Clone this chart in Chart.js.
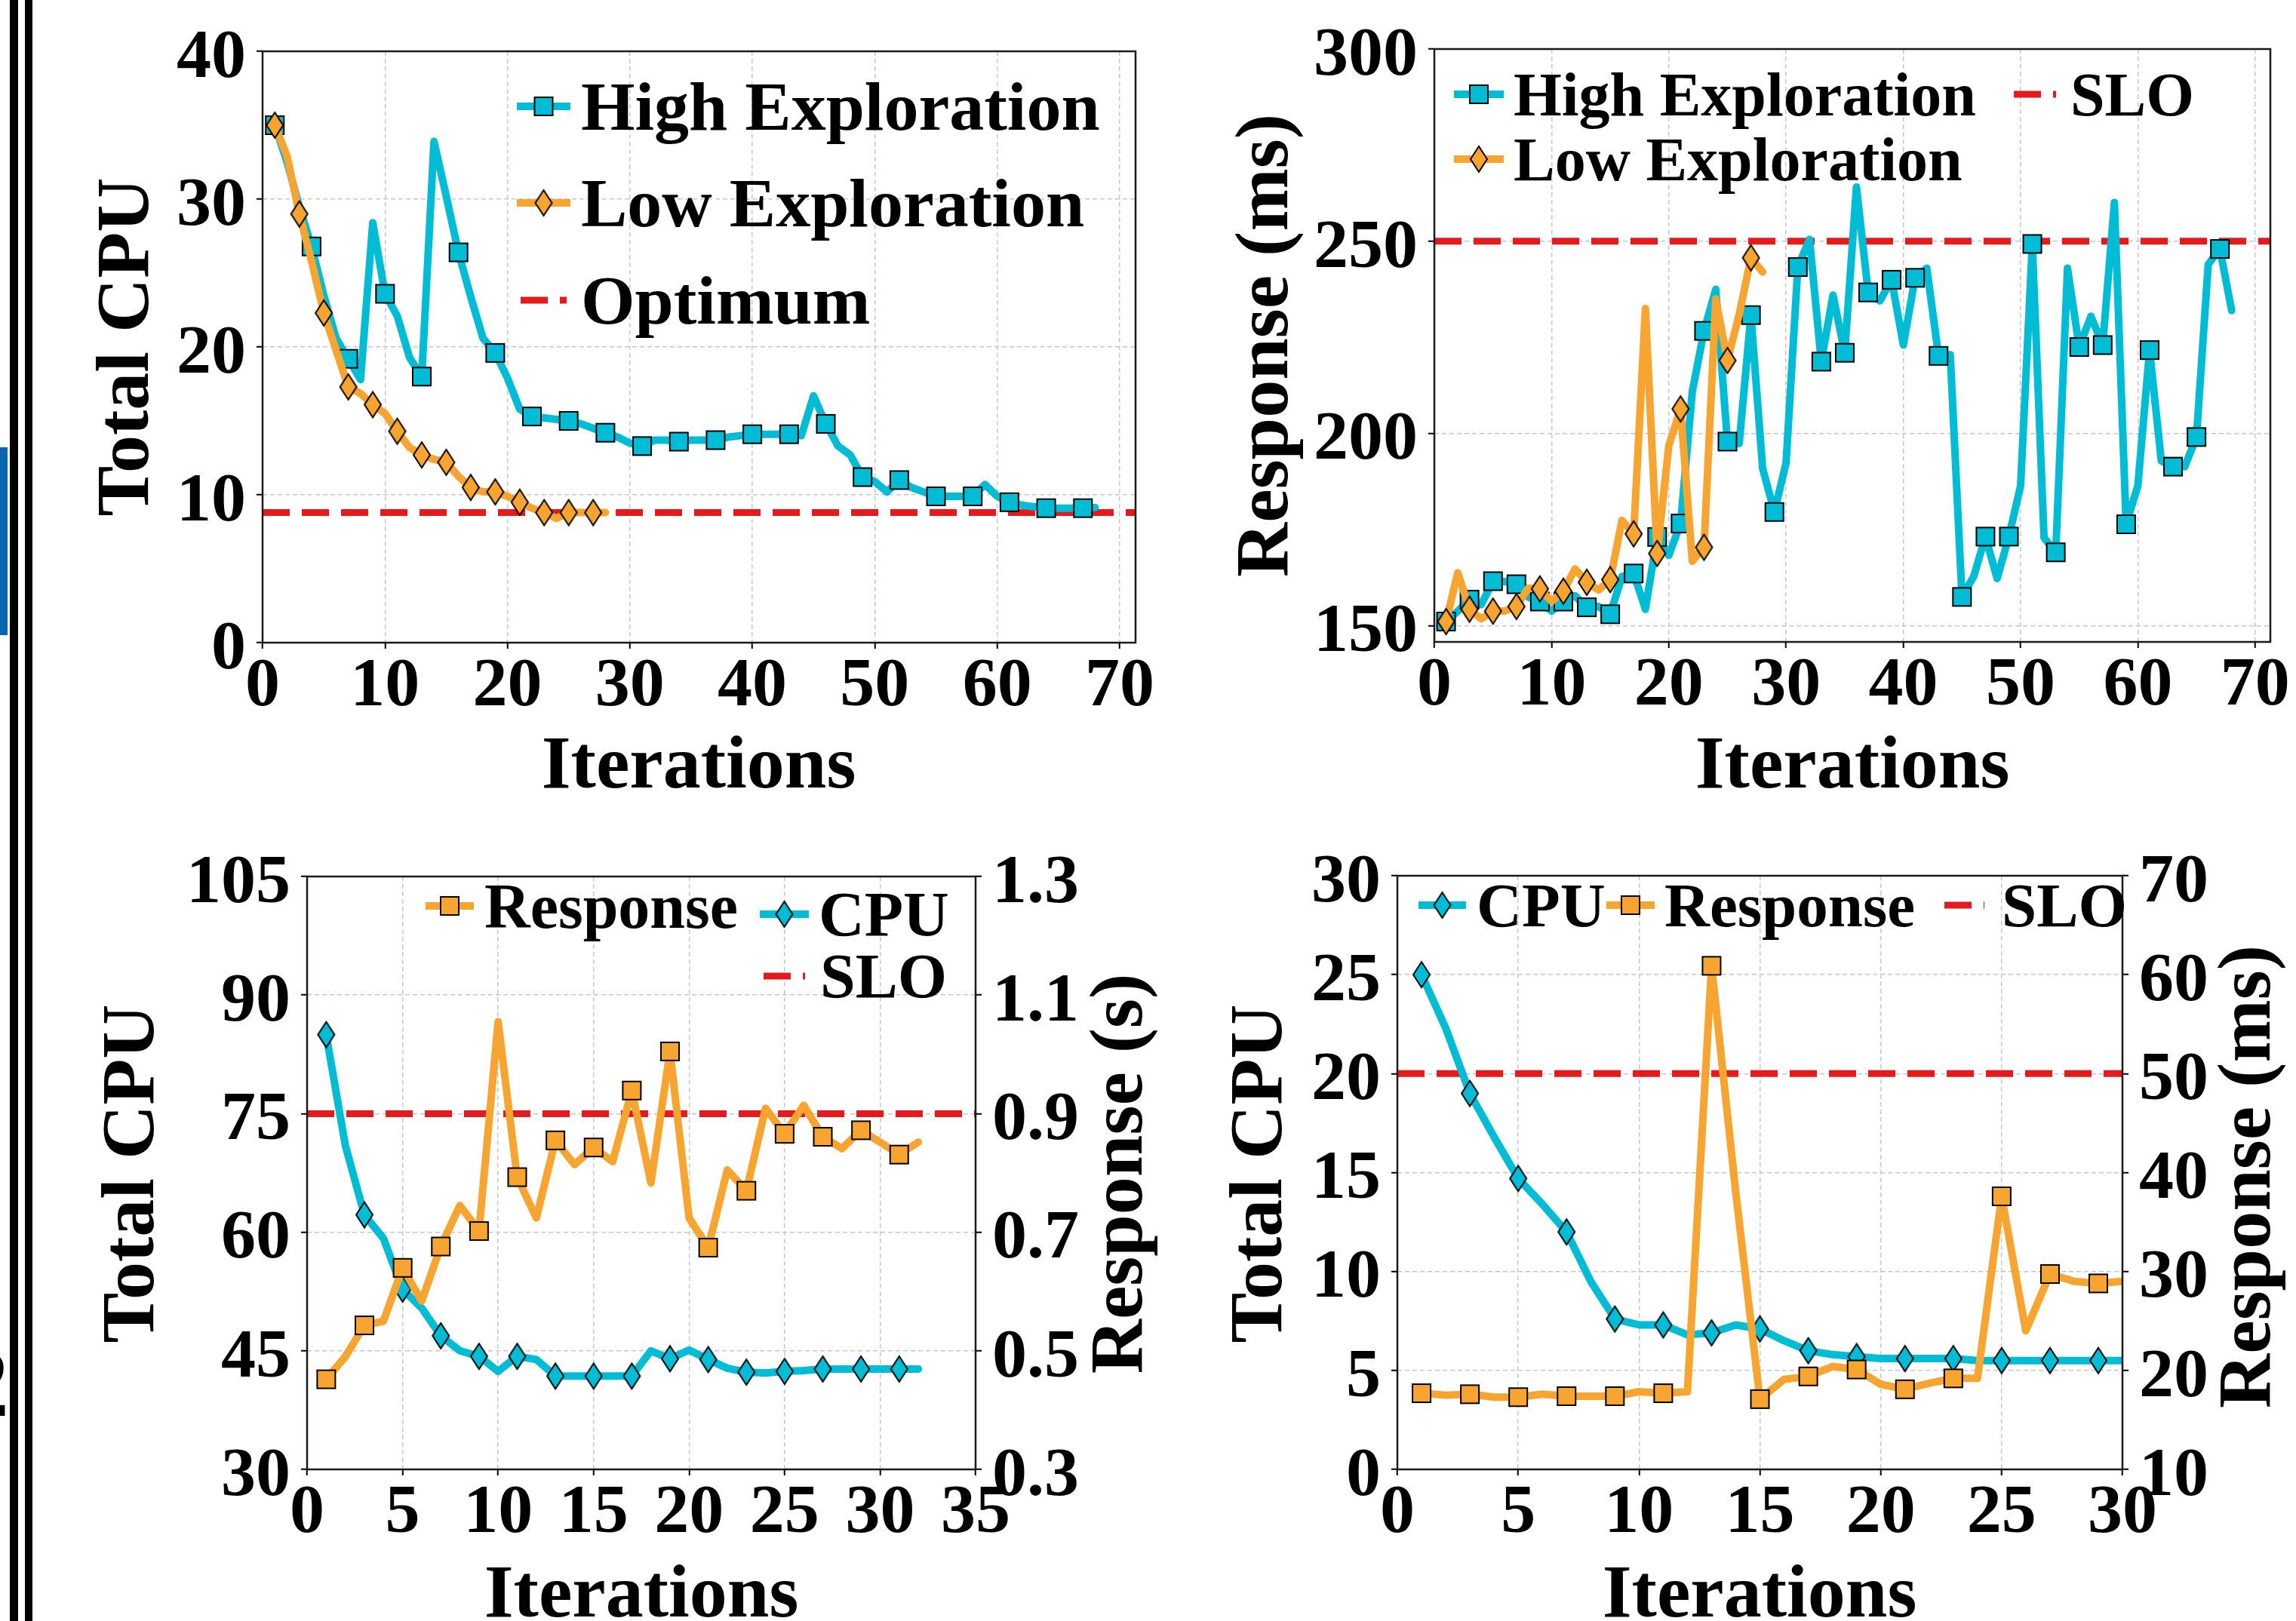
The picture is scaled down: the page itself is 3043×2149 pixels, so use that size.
<!DOCTYPE html>
<html>
<head>
<meta charset="utf-8">
<script src="https://cdn.jsdelivr.net/npm/chart.js@4.4.1/dist/chart.umd.min.js"></script>
<style>
  html, body { margin: 0; padding: 0; background: #fff; overflow: hidden; }
  #page { position: relative; width: 3043px; height: 2149px; overflow: hidden; background: #fff; }
  canvas { position: absolute; }
  .deco { position: absolute; }
</style>
</head>
<body>
<div id="page">
  <!-- bits of the neighbouring page that show at the left edge -->
  <div class="deco" style="left:13px;top:0;width:11px;height:2149px;background:#000"></div>
  <div class="deco" style="left:33px;top:0;width:10px;height:2149px;background:#000"></div>
  <div class="deco" style="left:0;top:593px;width:10px;height:249px;background:#0865b0"></div>
  <div class="deco" style="left:-53px;top:1768px;font:bold 130px 'Liberation Serif';line-height:1">2</div>

  <canvas id="tl" width="1580" height="1080" style="left:0;top:0"></canvas>
  <canvas id="tr" width="1483" height="1080" style="left:1560px;top:0"></canvas>
  <canvas id="bl" width="1580" height="1100" style="left:0;top:1080px"></canvas>
  <canvas id="br" width="1483" height="1100" style="left:1560px;top:1080px"></canvas>
</div>
<script>
const FONT = "'Liberation Serif', 'Times New Roman', serif";
const CYAN = '#00bcd4';
const ORANGE = '#f7a431';
const RED = '#e41a1c';

// top-left: total CPU per iteration (iteration 1, 2, ...)
const tlHighCpu = [35.0, 32.5, 29.5, 26.8, 23.5, 20.6, 19.2, 17.8, 28.4, 23.6,
  22.1, 19.3, 18.0, 33.9, 30.2, 26.4, 23.4, 20.6, 19.6, 17.9,
  15.8, 15.3, 15.2, 15.1, 15.0, 14.8, 14.5, 14.2, 13.9, 13.5,
  13.3, 13.7, 13.7, 13.6, 13.7, 13.7, 13.7, 13.9, 14.0, 14.1,
  14.1, 14.1, 14.1, 14.0, 16.7, 14.8, 13.3, 12.7, 11.2, 10.9,
  10.2, 11.0, 10.5, 10.2, 9.9, 9.9, 9.9, 9.9, 10.7, 9.9,
  9.5, 9.3, 9.2, 9.1, 9.1, 9.1, 9.1, 9.15];
const tlLowCpu = [35.0, 32.9, 29.0, 25.8, 22.3, 19.8, 17.3, 16.85, 16.1, 15.5,
  14.3, 13.2, 12.7, 12.4, 12.2, 11.25, 10.5, 10.2, 10.2, 9.9,
  9.5, 9.1, 8.8, 8.4, 8.8, 8.8, 8.8, 8.8];
const tlOptimum = 8.8;
const tlXTicks = [0, 10, 20, 30, 40, 50, 60, 70];
const tlXLabels = ['0', '10', '20', '30', '40', '50', '60', '70'];
const tlYTicks = [0, 10, 20, 30, 40];
const tlYLabels = ['0', '10', '20', '30', '40'];

// top-right: response time (ms)
const trHighResp = [151.1, 153.8, 156.8, 155.5, 161.6, 161.5, 160.8, 157.5, 156.3, 153.8,
  156.3, 157.8, 154.8, 155.0, 153.0, 162.8, 163.6, 154.3, 173.1, 168.3,
  176.6, 210.9, 226.7, 237.5, 197.9, 197.4, 230.8, 190.9, 179.6, 192.4,
  243.3, 250.5, 218.7, 236.0, 221.0, 264.1, 236.7, 234.5, 240.0, 223.0,
  240.5, 243.0, 220.2, 220.5, 157.5, 162.8, 173.2, 162.3, 173.2, 186.4,
  249.3, 172.9, 169.1, 243.0, 222.5, 230.5, 223.0, 260.1, 176.4, 186.4,
  221.7, 192.9, 191.4, 191.4, 199.1, 244.0, 248.0, 232.0];
const trLowResp = [151.1, 163.8, 154.3, 151.8, 153.8, 153.8, 155.0, 159.8, 159.6, 156.3,
  159.0, 164.8, 161.3, 159.3, 162.0, 177.4, 173.9, 232.5, 168.8, 196.9,
  206.4, 166.8, 170.4, 235.0, 219.0, 231.0, 245.7, 242.0];
const trSlo = 250;
const trYTicks = [150, 200, 250, 300];
const trYLabels = ['150', '200', '250', '300'];

// bottom-left: CPU (left axis) and response in s (right axis)
const blCpu = [85.0, 71.0, 62.2, 59.2, 52.8, 50.4, 46.9, 45.0, 44.3, 42.4,
  44.3, 43.9, 41.8, 41.8, 41.8, 41.8, 41.8, 45.0, 44.0, 45.1,
  43.9, 42.8, 42.3, 42.2, 42.4, 42.5, 42.7, 42.7, 42.7, 42.7,
  42.7, 42.7];
const blResp = [0.452, 0.490, 0.543, 0.550, 0.640, 0.584, 0.676, 0.745, 0.702, 1.055,
  0.793, 0.724, 0.855, 0.814, 0.843, 0.819, 0.939, 0.783, 1.005, 0.724,
  0.674, 0.805, 0.770, 0.909, 0.866, 0.914, 0.861, 0.841, 0.872, 0.852,
  0.831, 0.852];
const blSlo = 0.9;
const blXTicks = [0, 5, 10, 15, 20, 25, 30, 35];
const blXLabels = ['0', '5', '10', '15', '20', '25', '30', '35'];
const blYTicks = [30, 45, 60, 75, 90, 105];
const blYLabels = ['30', '45', '60', '75', '90', '105'];
const blRTicks = [0.3, 0.5, 0.7, 0.9, 1.1, 1.3];
const blRLabels = ['0.3', '0.5', '0.7', '0.9', '1.1', '1.3'];

// bottom-right: CPU (left axis) and response in ms (right axis)
const brCpu = [25.0, 22.3, 19.0, 16.8, 14.7, 13.4, 12.0, 9.5, 7.6, 7.3,
  7.3, 6.8, 6.9, 7.3, 7.1, 6.5, 6.0, 5.8, 5.7, 5.6,
  5.6, 5.6, 5.6, 5.5, 5.5, 5.5, 5.5, 5.5, 5.5, 5.5];
const brResp = [17.7, 17.5, 17.6, 17.3, 17.3, 17.6, 17.4, 17.4, 17.4, 17.85,
  17.7, 17.85, 60.9, 38.0, 17.1, 19.1, 19.4, 20.4, 20.1, 18.6,
  18.1, 18.7, 19.2, 19.2, 37.6, 24.0, 29.75, 29.0, 28.8, 29.0];
const brSlo = 50;
const brXTicks = [0, 5, 10, 15, 20, 25, 30];
const brXLabels = ['0', '5', '10', '15', '20', '25', '30'];
const brYTicks = [0, 5, 10, 15, 20, 25, 30];
const brYLabels = ['0', '5', '10', '15', '20', '25', '30'];
const brRTicks = [10, 20, 30, 40, 50, 60, 70];
const brRLabels = ['10', '20', '30', '40', '50', '60', '70'];

// marker glyphs (square and thin diamond, black edge)
function marker(kind, fill) {
  const c = document.createElement('canvas');
  const w = kind === 'square' ? 28 : 26;
  const h = kind === 'square' ? 28 : 38;
  c.width = w; c.height = h;
  const g = c.getContext('2d');
  g.fillStyle = fill; g.strokeStyle = '#000'; g.lineWidth = 2;
  g.beginPath();
  if (kind === 'square') {
    g.rect(2, 2, 24, 24);
  } else {
    g.moveTo(13, 2); g.lineTo(24, 19); g.lineTo(13, 36); g.lineTo(2, 19); g.closePath();
  }
  g.fill(); g.stroke();
  return c;
}

const xy = vals => vals.map((v, i) => ({ x: i + 1, y: v }));

function series(label, vals, color, mark, every, axis = 'y') {
  return {
    label, data: xy(vals), yAxisID: axis,
    borderColor: color, backgroundColor: color, borderWidth: 10,
    borderJoinStyle: 'round', borderCapStyle: 'round', tension: 0,
    pointStyle: mark, pointRadius: c => (c.dataIndex % every === 0 ? 12 : 0), pointHoverRadius: 0
  };
}

function level(label, value, xmin, xmax, axis = 'y') {
  return {
    label, data: [{ x: xmin, y: value }, { x: xmax, y: value }], yAxisID: axis,
    borderColor: RED, borderWidth: 9, borderDash: [36, 16], borderCapStyle: 'butt', pointRadius: 0
  };
}

function axis(pos, min, max, vals, labels, size, onArea = true) {
  const horiz = pos === 'bottom';
  return {
    type: 'linear', position: pos, min, max,
    afterBuildTicks: s => { s.ticks = vals.map(v => ({ value: v })); },
    afterFit: s => { if (horiz) s.height = size; else s.width = size; },
    ticks: {
      autoSkip: false, maxRotation: 0, minRotation: 0,
      padding: horiz ? 5 : 14, labelOffset: horiz ? 0 : 10, color: '#000',
      font: { family: FONT, size: 92, weight: 'bold', lineHeight: 1 },
      callback: (v, i) => labels[i]
    },
    grid: { color: '#c8c8c8', lineWidth: 1.5, tickLength: 8, tickWidth: 2, tickColor: '#000', drawOnChartArea: onArea },
    border: { display: false, dash: [6, 4] },
    title: { display: false }
  };
}

// box around the plot area, like the matplotlib spines
const frame = {
  id: 'frame',
  afterDatasetsDraw(chart) {
    const { ctx, chartArea: a } = chart;
    ctx.save();
    ctx.strokeStyle = '#1a1a1a'; ctx.lineWidth = 2.5;
    ctx.strokeRect(a.left, a.top, a.right - a.left, a.bottom - a.top);
    ctx.restore();
  }
};

// legend drawn inside the plot: line handle + marker + label
function legendBox(size, items) {
  return {
    id: 'inLegend',
    afterDraw(chart) {
      const ctx = chart.ctx;
      items.forEach(it => {
        const ds = chart.data.datasets[it.ds];
        ctx.save();
        ctx.strokeStyle = ds.borderColor;
        ctx.lineWidth = ds.borderWidth;
        ctx.setLineDash(ds.borderDash || []);
        ctx.lineCap = ds.borderDash ? 'butt' : 'square';
        ctx.beginPath(); ctx.moveTo(it.x, it.y); ctx.lineTo(it.x + it.len, it.y); ctx.stroke();
        const m = ds.pointStyle;
        if (m && m.width) ctx.drawImage(m, it.x + it.len / 2 - m.width / 2, it.y - m.height / 2);
        ctx.fillStyle = '#000';
        ctx.font = `bold ${size}px ${FONT}`;
        ctx.textAlign = 'left'; ctx.textBaseline = 'alphabetic';
        ctx.fillText(ds.label, it.tx, it.y + size * 0.34);
        ctx.restore();
      });
    }
  };
}

// axis titles; x, y is the centre of the text baseline
function axisTitles(list) {
  return {
    id: 'axisTitles',
    afterDraw(chart) {
      const ctx = chart.ctx;
      list.forEach(t => {
        ctx.save();
        ctx.translate(t.x, t.y);
        if (t.up) ctx.rotate(-Math.PI / 2);
        ctx.font = `bold 100px ${FONT}`; ctx.fillStyle = '#000';
        ctx.textAlign = 'center'; ctx.textBaseline = 'alphabetic';
        ctx.fillText(t.text, 0, 0);
        ctx.restore();
      });
    }
  };
}

function makeChart(id, datasets, scales, padding, plugins) {
  return new Chart(document.getElementById(id), {
    type: 'line',
    data: { datasets },
    options: {
      responsive: false, animation: false, devicePixelRatio: 1, events: [],
      layout: { padding, autoPadding: false },
      scales,
      plugins: { legend: { display: false }, tooltip: { enabled: false } }
    },
    plugins: [frame, ...plugins]
  });
}

const sq = c => marker('square', c);
const dm = c => marker('diamond', c);

// top-left
makeChart('tl', [
  series('Low Exploration', tlLowCpu, ORANGE, dm(ORANGE), 2),
  series('High Exploration', tlHighCpu, CYAN, sq(CYAN), 3),
  level('Optimum', tlOptimum, 0, 71.3)
], {
  x: axis('bottom', 0, 71.3, tlXTicks, tlXLabels, 228),
  y: axis('left', 0, 40, tlYTicks, tlYLabels, 348)
}, { top: 68, right: 75, left: 0, bottom: 0 }, [
  legendBox(92, [
    { ds: 1, x: 690, len: 61, tx: 770, y: 141 },
    { ds: 0, x: 690, len: 61, tx: 770, y: 269 },
    { ds: 2, x: 690, len: 61, tx: 770, y: 398 }
  ]),
  axisTitles([
    { text: 'Iterations', x: 926, y: 1044 },
    { text: 'Total CPU', x: 196, y: 460, up: true }
  ])
]);

// top-right
makeChart('tr', [
  series('Low Exploration', trLowResp, ORANGE, dm(ORANGE), 2),
  series('High Exploration', trHighResp, CYAN, sq(CYAN), 2),
  level('SLO', trSlo, 0, 71.3)
], {
  x: axis('bottom', 0, 71.3, tlXTicks, tlXLabels, 229),
  y: axis('left', 145.8, 300, trYTicks, trYLabels, 341)
}, { top: 65, right: 34, left: 0, bottom: 0 }, [
  legendBox(82, [
    { ds: 1, x: 372, len: 56, tx: 446, y: 125 },
    { ds: 0, x: 372, len: 56, tx: 446, y: 211 },
    { ds: 2, x: 1109, len: 56, tx: 1184, y: 125 }
  ]),
  axisTitles([
    { text: 'Iterations', x: 895, y: 1044 },
    { text: 'Response (ms)', x: 146, y: 458, up: true }
  ])
]);

// bottom-left
makeChart('bl', [
  series('Response', blResp, ORANGE, sq(ORANGE), 2, 'y1'),
  level('SLO', blSlo, 0, 35, 'y1'),
  series('CPU', blCpu, CYAN, dm(CYAN), 2)
], {
  x: axis('bottom', 0, 35, blXTicks, blXLabels, 232),
  y: axis('left', 30, 105, blYTicks, blYLabels, 407),
  y1: axis('right', 0.3, 1.3, blRTicks, blRLabels, 287, false)
}, { top: 82, right: 0, left: 0, bottom: 0 }, [
  legendBox(84, [
    { ds: 0, x: 569, len: 54, tx: 642, y: 121 },
    { ds: 2, x: 1012, len: 55, tx: 1085, y: 132 },
    { ds: 1, x: 1012, len: 55, tx: 1087, y: 214 }
  ]),
  axisTitles([
    { text: 'Iterations', x: 850, y: 1063 },
    { text: 'Total CPU', x: 203, y: 476, up: true },
    { text: 'Response (s)', x: 1513, y: 476, up: true }
  ])
]);

// bottom-right
makeChart('br', [
  series('Response', brResp, ORANGE, sq(ORANGE), 2, 'y1'),
  series('CPU', brCpu, CYAN, dm(CYAN), 2),
  level('SLO', brSlo, 0, 30, 'y1')
], {
  x: axis('bottom', 0, 30, brXTicks, brXLabels, 232),
  y: axis('left', 0, 30, brYTicks, brYLabels, 292),
  y1: axis('right', 10, 70, brRTicks, brRLabels, 230, false)
}, { top: 81, right: 0, left: 0, bottom: 0 }, [
  legendBox(83, [
    { ds: 1, x: 325, len: 53, tx: 397, y: 120 },
    { ds: 0, x: 574, len: 54, tx: 646, y: 120 },
    { ds: 2, x: 1017, len: 53, tx: 1093, y: 120 }
  ]),
  axisTitles([
    { text: 'Iterations', x: 772, y: 1063 },
    { text: 'Total CPU', x: 138, y: 476, up: true },
    { text: 'Response (ms)', x: 1448, y: 480, up: true }
  ])
]);
</script>
</body>
</html>
